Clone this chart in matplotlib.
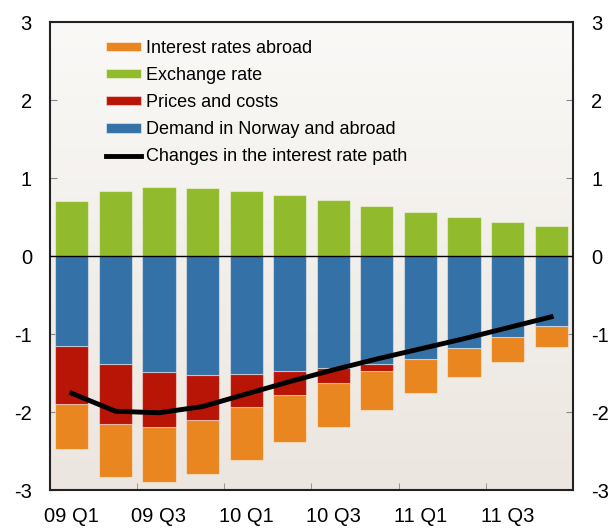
import numpy as np
import matplotlib.pyplot as plt
from matplotlib.colors import LinearSegmentedColormap

plt.rcParams['font.family'] = ['Liberation Sans', 'DejaVu Sans']

# Quarters 09 Q1 .. 11 Q4
quarters = ['09 Q1', '09 Q2', '09 Q3', '09 Q4', '10 Q1', '10 Q2',
            '10 Q3', '10 Q4', '11 Q1', '11 Q2', '11 Q3', '11 Q4']
tick_labels = ['09 Q1', '09 Q3', '10 Q1', '10 Q3', '11 Q1', '11 Q3']

exchange_rate = [0.71, 0.83, 0.88, 0.87, 0.83, 0.78, 0.72, 0.645, 0.57, 0.50, 0.44, 0.385]
demand = [-1.15, -1.38, -1.49, -1.53, -1.51, -1.47, -1.43, -1.38, -1.32, -1.18, -1.04, -0.90]
prices_costs = [-0.75, -0.78, -0.70, -0.57, -0.43, -0.31, -0.20, -0.09, 0.0, 0.0, 0.0, 0.0]
rates_abroad = [-0.58, -0.67, -0.71, -0.70, -0.67, -0.61, -0.56, -0.50, -0.43, -0.37, -0.32, -0.27]
rate_path = [-1.76, -1.99, -2.01, -1.93, -1.77, -1.61, -1.46, -1.32, -1.19, -1.06, -0.92, -0.78]

c_orange = '#ea861f'
c_green = '#91bb2c'
c_red = '#b81507'
c_blue = '#3371a6'

x = np.arange(len(quarters))
w = 0.76

fig = plt.figure(figsize=(6.11, 5.29), dpi=100)
ax = fig.add_axes([0.0818, 0.0737, 0.856, 0.8847])

# gradient background
cmap = LinearSegmentedColormap.from_list('bg', ['#ebe6df', '#faf9f7'])
ax.imshow(np.linspace(0, 1, 256).reshape(-1, 1), cmap=cmap, aspect='auto',
          extent=[-0.5, 11.5, -3, 3], origin='lower', zorder=0)

edge = (1, 1, 1, 0.45)
bot_red = np.array(demand)
bot_orange = bot_red + np.array(prices_costs)

h1 = ax.bar(x, rates_abroad, w, bottom=bot_orange, color=c_orange, edgecolor=edge, lw=0.8,
            label='Interest rates abroad', zorder=2)
h2 = ax.bar(x, exchange_rate, w, color=c_green, edgecolor=edge, lw=0.8,
            label='Exchange rate', zorder=2)
h3 = ax.bar(x, prices_costs, w, bottom=bot_red, color=c_red, edgecolor=edge, lw=0.8,
            label='Prices and costs', zorder=2)
h4 = ax.bar(x, demand, w, color=c_blue, edgecolor=edge, lw=0.8,
            label='Demand in Norway and abroad', zorder=2)
h5, = ax.plot(x, rate_path, color='black', lw=3.5, label='Changes in the interest rate path', zorder=4)
ax.axhline(0, color='black', lw=1, zorder=3)

ax.set_xlim(-0.5, 11.5)
ax.set_ylim(-3, 3)

ax.set_xticks(x[::2])
ax.set_xticklabels(tick_labels, fontsize=14.5)
ax.set_xticks(x[1:-1:2] + 0.5, minor=True)
ax.tick_params(axis='x', which='major', length=0, pad=12)
ax.tick_params(axis='x', which='minor', direction='in', length=5, color='#888888')

ax.set_yticks([-3, -2, -1, 0, 1, 2, 3])
ax.set_yticklabels(['-3', '-2', '-1', '0', '1', '2', '3'])
ax.tick_params(axis='y', direction='in', length=5, color='#888888', labelsize=14.5,
               left=True, right=True, labelleft=True, labelright=True, pad=13)

for s in ax.spines.values():
    s.set_linewidth(1.5)
    s.set_color('#222222')

ax.legend(handles=[h1, h2, h3, h4, h5], loc='upper left', bbox_to_anchor=(0.107, 0.962),
          frameon=False, fontsize=13, handlelength=1.95, handleheight=0.45,
          handletextpad=0.25, labelspacing=0.56, borderaxespad=0, borderpad=0)

plt.savefig('out.png', dpi=100)
